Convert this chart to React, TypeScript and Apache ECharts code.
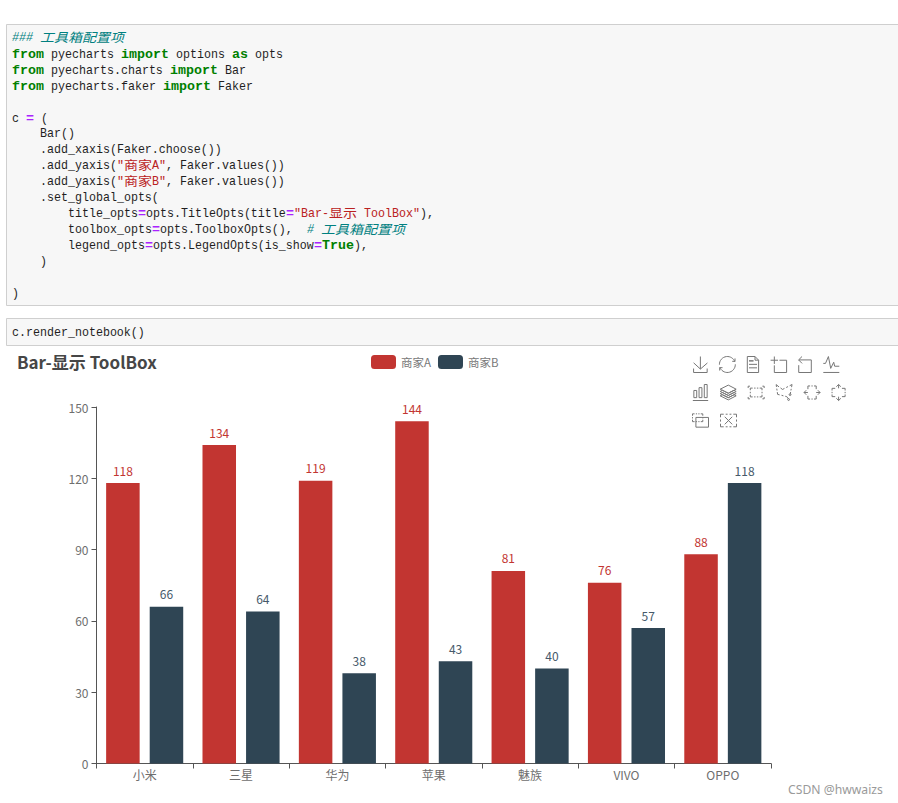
import React, { useEffect, useRef } from "react";
import * as echarts from "echarts";

const categories = ["小米", "三星", "华为", "苹果", "魅族", "VIVO", "OPPO"];
const seriesA = [118, 134, 119, 144, 81, 76, 88];
const seriesB = [66, 64, 38, 43, 40, 57, 118];
const seriesNames = ["商家A", "商家B"];
const titleText = "Bar-显示 ToolBox";
const watermark = "CSDN @hwwaizs";

type Tok = [string, string?];
// k keyword, c comment, s string, o operator
const codeCell: [number, Tok[]][] = [
  [37, [["### 工具箱配置项", "c"]]],
  [54, [["from", "k"], [" pyecharts "], ["import", "k"], [" options "], ["as", "k"], [" opts"]]],
  [70, [["from", "k"], [" pyecharts.charts "], ["import", "k"], [" Bar"]]],
  [86, [["from", "k"], [" pyecharts.faker "], ["import", "k"], [" Faker"]]],
  [118, [["c "], ["=", "o"], [" ("]]],
  [133, [["    Bar()"]]],
  [149, [["    .add_xaxis(Faker.choose())"]]],
  [165, [["    .add_yaxis("], ['"商家A"', "s"], [", Faker.values())"]]],
  [181, [["    .add_yaxis("], ['"商家B"', "s"], [", Faker.values())"]]],
  [197, [["    .set_global_opts("]]],
  [213, [["        title_opts"], ["=", "o"], ["opts.TitleOpts(title"], ["=", "o"], ['"Bar-显示 ToolBox"', "s"], ["),"]]],
  [229, [["        toolbox_opts"], ["=", "o"], ["opts.ToolboxOpts(),  "], ["# 工具箱配置项", "c"]]],
  [245, [["        legend_opts"], ["=", "o"], ["opts.LegendOpts(is_show"], ["=", "o"], ["True", "k"], ["),"]]],
  [261, [["    )"]]],
  [293, [[")"]]],
];
const renderLine: [number, Tok[]] = [332, [["c.render_notebook()"]]];

const CODE_X = 12;
const MONO_EM = 0.6;
const LATIN_SIZE = 12.6;
const CJK_SIZE = 12.5;
const tokenColor: Record<string, string> = { k: "#008000", c: "#008080", s: "#BA2121", o: "#AA22FF" };

function lineToGraphics(y: number, toks: Tok[]) {
  const out: any[] = [];
  let x = CODE_X;
  for (const [text, kind] of toks) {
    const bold = kind === "k" || kind === "o";
    for (const run of text.match(/[\u4e00-\u9fff]+|[^\u4e00-\u9fff]+/g) || []) {
      const cjk = /[\u4e00-\u9fff]/.test(run);
      const adv = cjk ? 14 : bold ? 8 : 7;
      const natural = cjk ? CJK_SIZE : LATIN_SIZE * MONO_EM;
      if (run.trim()) {
        const lead = cjk ? 0 : run.length - run.trimStart().length;
        out.push({
          type: "text",
          x: x + lead * adv,
          y: y + (cjk ? -0.5 : 0.7),
          scaleX: adv / natural,
          silent: true,
          style: {
            text: run.trimStart(),
            fill: kind ? tokenColor[kind] : "#1f1f1f",
            fontFamily: cjk ? "Noto Sans CJK SC" : "Liberation Mono",
            fontSize: cjk ? CJK_SIZE : LATIN_SIZE,
            fontStyle: kind === "c" ? "italic" : "normal",
            fontWeight: bold ? "bold" : "normal",
            verticalAlign: "middle",
          },
        });
      }
      x += run.length * adv;
    }
  }
  return out;
}

export default function App() {
  const ref = useRef<HTMLDivElement>(null);
  useEffect(() => {
    const chart = echarts.init(ref.current!, undefined, { renderer: "svg" });
    const cellStyle = { fill: "#f7f7f7", stroke: "#cfcfcf", lineWidth: 1 };
    chart.setOption({
      animation: false,
      backgroundColor: "#ffffff",
      color: ["#c23531", "#2f4554"],
      textStyle: { fontFamily: "Noto Sans CJK SC" },
      title: {
        text: titleText,
        left: 12,
        top: 348,
        textStyle: { fontSize: 17, fontWeight: "bold", color: "#464646", fontFamily: "Noto Sans CJK SC" },
      },
      legend: {
        data: seriesNames,
        left: 366,
        top: 350,
        itemWidth: 25,
        itemHeight: 14,
        itemGap: 7,
        icon: "roundRect",
        textStyle: { fontSize: 11.5, color: "#777777", fontFamily: "Noto Sans CJK SC" },
      },
      toolbox: {
        show: true,
        orient: "horizontal",
        left: 675,
        width: 170,
        top: 339,
        itemSize: 16,
        itemGap: 7,
        iconStyle: { borderColor: "#777777", color: "none", borderWidth: 1 },
        feature: {
          saveAsImage: {},
          restore: {},
          dataView: {},
          dataZoom: {},
          magicType: { type: ["line", "bar", "stack"] },
          brush: { type: ["rect", "polygon", "lineX", "lineY", "keep", "clear"] },
        },
      },
      grid: { left: 96.5, right: 127, top: 407, bottom: 39.5, containLabel: false },
      xAxis: {
        type: "category",
        data: categories,
        axisLine: { show: true, lineStyle: { color: "#555" } },
        axisTick: { show: true, alignWithLabel: false, length: 5, lineStyle: { color: "#555" } },
        axisLabel: { color: "#6e6e6e", fontSize: 12, margin: 5 },
        splitLine: { show: false },
      },
      yAxis: {
        type: "value",
        min: 0,
        max: 150,
        interval: 30,
        axisLine: { show: true, lineStyle: { color: "#555" } },
        axisTick: { show: true, length: 5, lineStyle: { color: "#555" } },
        axisLabel: { color: "#6e6e6e", fontSize: 12, margin: 8 },
        splitLine: { show: false },
      },
      series: [
        {
          name: seriesNames[0],
          type: "bar",
          data: seriesA,
          barCategoryGap: "20%",
          barGap: "30%",
          label: { show: true, position: "top", distance: 7, color: "#c23531", fontSize: 12 },
        },
        {
          name: seriesNames[1],
          type: "bar",
          data: seriesB,
          barCategoryGap: "20%",
          barGap: "30%",
          label: { show: true, position: "top", distance: 7, color: "#46596a", fontSize: 12 },
        },
      ],
      graphic: [
        { type: "rect", silent: true, shape: { x: 6.5, y: 24.5, width: 900, height: 281 }, style: cellStyle },
        { type: "rect", silent: true, shape: { x: 6.5, y: 318.5, width: 900, height: 27 }, style: cellStyle },
        ...codeCell.flatMap(([y, toks]) => lineToGraphics(y, toks)),
        ...lineToGraphics(renderLine[0], renderLine[1]),
        {
          type: "text",
          x: 788,
          y: 789,
          silent: true,
          style: {
            text: watermark,
            fill: "#9a9a9a",
            fontSize: 12.2,
            fontFamily: "Noto Sans",
            verticalAlign: "middle",
          },
        },
      ],
    });
    return () => chart.dispose();
  }, []);
  return <div ref={ref} style={{ position: "absolute", left: 0, top: 0, width: 898, height: 803 }} />;
}
